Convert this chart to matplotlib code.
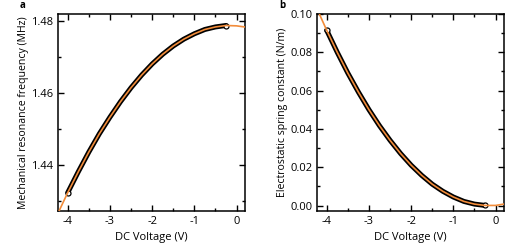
import matplotlib
matplotlib.use("Agg")
import matplotlib.pyplot as plt
from matplotlib.ticker import MultipleLocator, FormatStrFormatter

plt.rcParams["font.family"] = ["Open Sans", "DejaVu Sans"]
plt.rcParams["font.size"] = 8

volts = [-4.00, -3.75, -3.50, -3.25, -3.00, -2.75, -2.50, -2.25,
         -2.00, -1.75, -1.50, -1.25, -1.00, -0.75, -0.50, -0.25]
freq_mhz = [1.4322, 1.4380, 1.4435, 1.4486, 1.4532, 1.4575, 1.4614, 1.4649,
            1.4680, 1.4707, 1.4730, 1.4749, 1.4764, 1.4776, 1.4783, 1.4787]
spring_k = [0.0915, 0.0800, 0.0692, 0.0593, 0.0501, 0.0417, 0.0341, 0.0272,
            0.0211, 0.0158, 0.0112, 0.0075, 0.0045, 0.0022, 0.0008, 0.0001]

# fitted curves
fit_volts = [-4.25, -4.00, -3.75, -3.50, -3.25, -3.00, -2.75, -2.50, -2.25,
             -2.00, -1.75, -1.50, -1.25, -1.00, -0.75, -0.50, -0.25, 0.00, 0.25]
fit_freq = [1.4260, 1.4322, 1.4380, 1.4435, 1.4486, 1.4532, 1.4575, 1.4614, 1.4649,
            1.4680, 1.4707, 1.4730, 1.4749, 1.4764, 1.4776, 1.4783, 1.4787, 1.4786, 1.4782]
fit_k = [0.1037, 0.0915, 0.0800, 0.0692, 0.0593, 0.0501, 0.0417, 0.0341, 0.0272,
         0.0211, 0.0158, 0.0112, 0.0075, 0.0045, 0.0022, 0.0008, 0.0001, 0.0001, 0.0010]

orange = "#f28c3a"

fig = plt.figure(figsize=(5.25, 2.43), dpi=100)
ax_a = fig.add_axes([0.1105, 0.1317, 0.3562, 0.8107])
ax_b = fig.add_axes([0.6038, 0.1317, 0.3562, 0.8107])


def draw_panel(ax, y_data, y_fit, ylabel):
    ax.plot(volts, y_data, "-", color="black", lw=3.6, solid_capstyle="round", zorder=2)
    ax.plot([volts[0], volts[-1]], [y_data[0], y_data[-1]], "o", ms=3.6,
            mfc="white", mec="black", mew=0.9, zorder=2)
    ax.plot(fit_volts, y_fit, "-", color=orange, lw=1.2, zorder=3)
    ax.set_xlim(-4.23, 0.2)
    ax.xaxis.set_major_locator(MultipleLocator(1))
    ax.xaxis.set_minor_locator(MultipleLocator(0.5))
    ax.xaxis.set_major_formatter(FormatStrFormatter("%d"))
    ax.yaxis.set_major_locator(MultipleLocator(0.02))
    ax.yaxis.set_minor_locator(MultipleLocator(0.01))
    ax.yaxis.set_major_formatter(FormatStrFormatter("%.2f"))
    ax.tick_params(which="both", direction="in", top=True, right=True, width=1.0)
    ax.tick_params(which="major", length=4)
    ax.tick_params(which="minor", length=2.5)
    for sp in ax.spines.values():
        sp.set_linewidth(1.1)
    ax.set_xlabel("DC Voltage (V)")
    ax.set_ylabel(ylabel, fontsize=7.6, va="center")
    ax.yaxis.set_label_coords(-0.187, 0.5)


draw_panel(ax_a, freq_mhz, fit_freq, "Mechanical resonance frequency (MHz)")
ax_a.set_ylim(1.4271, 1.4819)

draw_panel(ax_b, spring_k, fit_k, "Electrostatic spring constant (N/m)")
ax_b.set_ylim(-0.0028, 0.1)

fig.text(20 / 525, 1 - 6 / 243, "a", fontsize=7, fontweight="bold", va="center")
fig.text(279 / 525, 1 - 6 / 243, "b", fontsize=7, fontweight="bold", va="center")

fig.savefig("out.png", dpi=100)
